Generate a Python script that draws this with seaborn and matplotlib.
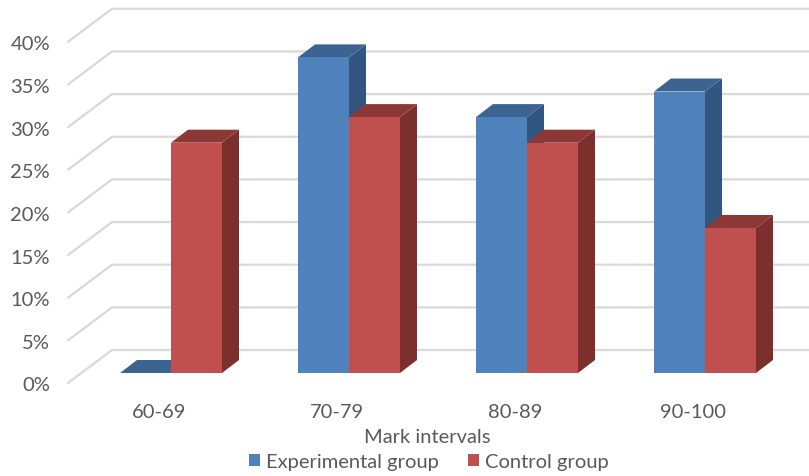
import pandas as pd
import seaborn as sns
import matplotlib.pyplot as plt
from matplotlib.patches import Polygon
from matplotlib.transforms import ScaledTranslation

# Values
intervals = ["60-69", "70-79", "80-89", "90-100"]
experimental = [0, 37, 30, 33]
control = [27, 30, 27, 17]
y_ticks = [0, 5, 10, 15, 20, 25, 30, 35, 40]

df = pd.DataFrame({"interval": intervals * 2,
                   "share": experimental + control,
                   "group": ["Experimental group"] * 4 + ["Control group"] * 4})

sns.set_theme(style="white")
plt.rcParams["font.family"] = ["Lato", "DejaVu Sans"]
text_color = "#595959"
grid_color = "#d9d9d9"

W, H = 809, 477
fig = plt.figure(figsize=(W / 100, H / 100), dpi=100)

# Plane of the front faces, in pixels of the picture
left, right, floor, per_pct, per_cat = 68, 809, 374, 8.53, 178
ax = fig.add_axes([left / W, (H - floor) / H, (right - left) / W, 40 * per_pct / H])
ax.patch.set_alpha(0)

colors = {"Experimental group": "#4f81bd", "Control group": "#c0504d"}
sns.barplot(data=df, x="interval", y="share", hue="group", palette=colors,
            width=102 / per_cat, saturation=1, linewidth=0, ax=ax)
ax.set_xlim((left - 171) / per_cat, (right - 171) / per_cat)
ax.set_ylim(0, 40)
sns.despine(ax=ax, left=True, bottom=True)

# Back wall gridlines, with the slanted part on the side wall
for v in y_ticks:
    ax.plot([(68 - 171) / per_cat, (112 - 171) / per_cat, (right - 171) / per_cat],
            [v - 10 / per_pct, v + 23 / per_pct, v + 23 / per_pct],
            color=grid_color, lw=1.6, clip_on=False, zorder=1)

# 3D depth of every bar, built from the bars seaborn has drawn
dx, dy = 17 / per_cat, 13 / per_pct
shades = {"#4f81bd": ("#3c6491", "#335680"), "#c0504d": ("#8e3836", "#7b302e")}
bars = [p for p in ax.patches if p.get_width() > 0]
for i, bar in enumerate(sorted(bars, key=lambda b: b.get_x())):
    x0, x1, top = bar.get_x(), bar.get_x() + bar.get_width(), bar.get_height()
    front = "#4f81bd" if i % 2 == 0 else "#c0504d"
    top_col, side_col = shades[front]
    z = 3 + i
    bar.set_zorder(z + 0.2)
    ax.add_patch(Polygon([(x1, 0), (x1 + dx, dy), (x1 + dx, top + dy), (x1, top)],
                         fc=side_col, lw=0, zorder=z, clip_on=False))
    ax.add_patch(Polygon([(x0, top), (x0 + dx, top + dy), (x1 + dx, top + dy), (x1, top)],
                         fc=top_col, lw=0, zorder=z + 0.1, clip_on=False))

ax.set_yticks([])
ax.set_xticks(range(len(intervals)), intervals)
ax.tick_params(axis="x", length=0, pad=21.7, labelsize=14.5, labelcolor=text_color)
# Category labels sit a little left of the bars in the original
shift = ScaledTranslation(-12 / 100, 0, fig.dpi_scale_trans)
for label in ax.get_xticklabels():
    label.set_transform(label.get_transform() + shift)
ax.set_xlabel("Mark intervals", fontsize=14.5, color=text_color)
ax.set_ylabel("")
ax.xaxis.set_label_coords((427 - left) / (right - left), -55 / (40 * per_pct), transform=ax.transAxes)

# Value labels belong to the front edge of the side wall
ax_y = fig.add_axes([left / W, (H - 384.5) / H, (right - left) / W, 341 / H])
ax_y.patch.set_alpha(0)
ax_y.set_ylim(0, 40)
ax_y.set_xticks([])
ax_y.set_yticks(y_ticks, [f"{v}%" for v in y_ticks])
ax_y.tick_params(axis="y", length=0, pad=13, labelsize=14.5, labelcolor=text_color)
sns.despine(ax=ax_y, left=True, bottom=True)

leg = ax.legend(loc="center", bbox_to_anchor=(429 / W, (H - 463) / H), bbox_transform=fig.transFigure,
                ncol=2, frameon=False, fontsize=14.5, handlelength=0.55, handleheight=0.55,
                handletextpad=0.3, columnspacing=1.45, labelcolor=text_color)

plt.savefig("out.png", dpi=100)
